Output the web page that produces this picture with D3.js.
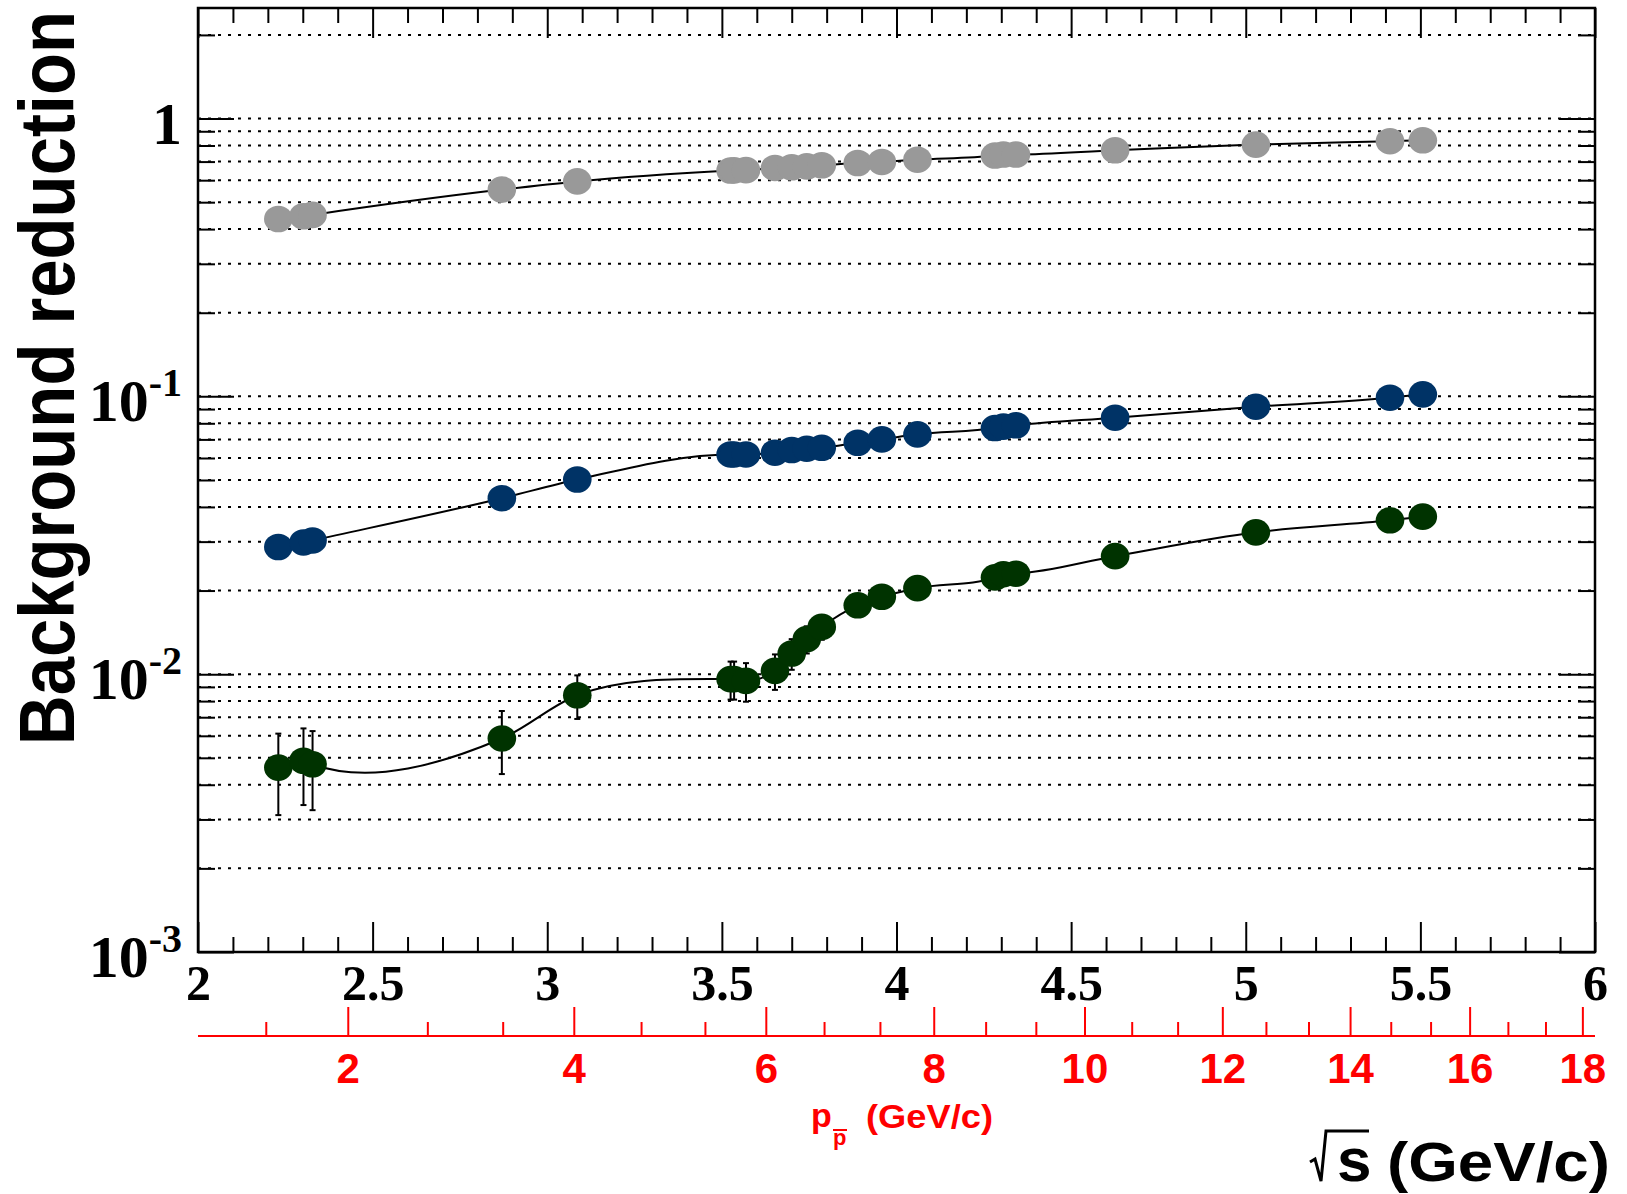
<!DOCTYPE html>
<html>
<head>
<meta charset="utf-8">
<script src="https://cdn.jsdelivr.net/npm/d3@7"></script>
<style>
  body { margin: 0; background: #fff; }
  svg { display: block; }
</style>
</head>
<body>
<div id="chart"></div>
<script>
// centre-of-mass energy of each point (GeV)
const sqrtS = [2.230, 2.302, 2.328, 2.870, 3.086, 3.525, 3.535, 3.569, 3.652, 3.700, 3.743,
  3.786, 3.889, 3.958, 4.060, 4.282, 4.306, 4.342, 4.626, 5.029, 5.413, 5.507];

const gray = [0.435, 0.445, 0.450, 0.555, 0.594, 0.650, 0.651, 0.652, 0.664, 0.668, 0.673,
  0.679, 0.692, 0.698, 0.711, 0.736, 0.742, 0.742, 0.769, 0.806, 0.829, 0.835];

const blue = [0.0287, 0.0298, 0.0303, 0.0430, 0.0502, 0.0618, 0.0618, 0.0618, 0.0627, 0.0641, 0.0648,
  0.0653, 0.0681, 0.0700, 0.0730, 0.0769, 0.0778, 0.0787, 0.0838, 0.0918, 0.0989, 0.1017];

const green = [0.00461, 0.00488, 0.00474, 0.00587, 0.0084, 0.0096, 0.0096, 0.00946, 0.01028, 0.01187, 0.01337,
  0.0148, 0.0177, 0.0190, 0.0204, 0.0223, 0.0229, 0.0230, 0.0266, 0.0324, 0.0358, 0.0369];

const greenErr = [0.0015, 0.0015, 0.0015, 0.0015, 0.0015, 0.0015, 0.0015, 0.0015, 0.0015, 0.0015, 0.0015,
  0.0015, 0.0015, 0.0015, 0.0015, 0.0015, 0.0015, 0.0015, 0.0015, 0.0015, 0.0015, 0.0015];

const xTicks = [2, 2.5, 3, 3.5, 4, 4.5, 5, 5.5, 6];
const yTicks = [0.001, 0.01, 0.1, 1];
const yExp = ["-3", "-2", "-1", ""];
const pbarTicks = [2, 4, 6, 8, 10, 12, 14, 16, 18];

const W = 1627, H = 1194;
const frame = { left: 198, right: 1595, top: 8, bottom: 952 };
const serif = "'Liberation Serif', 'Times New Roman', serif";
const sans = "'Liberation Sans', Arial, Helvetica, sans-serif";

const svg = d3.select("#chart").append("svg")
  .attr("width", W)
  .attr("height", H);

svg.append("rect").attr("width", W).attr("height", H).attr("fill", "#fff");

const x = d3.scaleLinear().domain([2, 6]).range([frame.left, frame.right]);
const y = d3.scaleLog().domain([0.001, 2.5]).range([frame.bottom, frame.top]);

// antiproton beam momentum -> sqrt(s) on a fixed proton target
const mp = 0.938272;
const sqrtSfromP = p => Math.sqrt(2 * mp * mp + 2 * mp * Math.sqrt(p * p + mp * mp));

const xMinor = d3.range(20, 61).map(d => d / 10).filter(d => Math.abs(d * 2 - Math.round(d * 2)) > 1e-6);
const yMinor = [];
[-3, -2, -1, 0].forEach(e => {
  d3.range(2, 10).forEach(k => {
    const v = k * Math.pow(10, e);
    if (v <= 2.5) yMinor.push(v);
  });
});

// grid lines (dotted)
svg.append("g")
  .selectAll("line")
  .data(yTicks.concat(yMinor).filter(d => d > 0.001))
  .join("line")
  .attr("x1", frame.left)
  .attr("x2", frame.right)
  .attr("y1", d => y(d))
  .attr("y2", d => y(d))
  .attr("stroke", "#000")
  .attr("stroke-width", 2)
  .attr("stroke-dasharray", "3,7");

// axes
function styleAxis(g) {
  g.select(".domain").remove();
  g.selectAll(".tick line").attr("stroke", "#000").attr("stroke-width", 2);
}

svg.append("g")
  .attr("transform", `translate(0,${frame.bottom})`)
  .call(d3.axisBottom(x).tickValues(xTicks).tickSize(-30).tickPadding(12).tickFormat(d3.format("")))
  .call(styleAxis)
  .call(g => g.selectAll("text")
    .attr("fill", "#000")
    .attr("font-family", serif)
    .attr("font-weight", "bold")
    .attr("font-size", 50));

svg.append("g")
  .attr("transform", `translate(0,${frame.bottom})`)
  .call(d3.axisBottom(x).tickValues(xMinor).tickSize(-15).tickFormat(""))
  .call(styleAxis);

svg.append("g")
  .attr("transform", `translate(0,${frame.top})`)
  .call(d3.axisTop(x).tickValues(xTicks).tickSize(-30).tickFormat(""))
  .call(styleAxis);

svg.append("g")
  .attr("transform", `translate(0,${frame.top})`)
  .call(d3.axisTop(x).tickValues(xMinor).tickSize(-15).tickFormat(""))
  .call(styleAxis);

svg.append("g")
  .attr("transform", `translate(${frame.left},0)`)
  .call(d3.axisLeft(y).tickValues(yTicks).tickSize(-36).tickFormat(""))
  .call(styleAxis);

svg.append("g")
  .attr("transform", `translate(${frame.left},0)`)
  .call(d3.axisLeft(y).tickValues(yMinor).tickSize(-17).tickFormat(""))
  .call(styleAxis);

svg.append("g")
  .attr("transform", `translate(${frame.right},0)`)
  .call(d3.axisRight(y).tickValues(yTicks).tickSize(-36).tickFormat(""))
  .call(styleAxis);

svg.append("g")
  .attr("transform", `translate(${frame.right},0)`)
  .call(d3.axisRight(y).tickValues(yMinor).tickSize(-17).tickFormat(""))
  .call(styleAxis);

// y tick labels with superscript exponents
const yLab = svg.append("g")
  .selectAll("text")
  .data(yTicks)
  .join("text")
  .attr("x", 182)
  .attr("y", d => y(d) + 25)
  .attr("text-anchor", "end")
  .attr("font-family", serif)
  .attr("font-weight", "bold")
  .attr("font-size", 60);

yLab.each(function (d, i) {
  const t = d3.select(this);
  if (yExp[i] === "") {
    t.text("1");
  } else {
    t.append("tspan").text("10");
    t.append("tspan").attr("font-size", 40).attr("dy", -25).text(yExp[i]);
  }
});

// frame
svg.append("rect")
  .attr("x", frame.left)
  .attr("y", frame.top)
  .attr("width", frame.right - frame.left)
  .attr("height", frame.bottom - frame.top)
  .attr("fill", "none")
  .attr("stroke", "#000")
  .attr("stroke-width", 2.5);

// secondary (red) antiproton momentum axis
const redY = 1036;
const red = "#ff0000";
const pMinor = d3.range(1, 27).map(k => k * 2 / 3).filter(p => Math.abs(p / 2 - Math.round(p / 2)) > 1e-6 && p < 18 && sqrtSfromP(p) >= 2);

const redAxis = svg.append("g");
redAxis.append("line")
  .attr("x1", x(2))
  .attr("x2", x(6))
  .attr("y1", redY)
  .attr("y2", redY)
  .attr("stroke", red)
  .attr("stroke-width", 2);

redAxis.selectAll("line.major")
  .data(pbarTicks)
  .join("line")
  .attr("class", "major")
  .attr("x1", d => x(sqrtSfromP(d)))
  .attr("x2", d => x(sqrtSfromP(d)))
  .attr("y1", redY)
  .attr("y2", redY - 29)
  .attr("stroke", red)
  .attr("stroke-width", 2);

redAxis.selectAll("line.minor")
  .data(pMinor)
  .join("line")
  .attr("class", "minor")
  .attr("x1", d => x(sqrtSfromP(d)))
  .attr("x2", d => x(sqrtSfromP(d)))
  .attr("y1", redY)
  .attr("y2", redY - 14)
  .attr("stroke", red)
  .attr("stroke-width", 2);

redAxis.selectAll("text")
  .data(pbarTicks)
  .join("text")
  .attr("x", d => x(sqrtSfromP(d)))
  .attr("y", 1083)
  .attr("text-anchor", "middle")
  .attr("fill", red)
  .attr("font-family", sans)
  .attr("font-weight", "bold")
  .attr("font-size", 42)
  .text(d => d);

// red axis title: p_{pbar} (GeV/c)
const redTitle = svg.append("g").attr("fill", red).attr("font-family", sans).attr("font-weight", "bold");
redTitle.append("text").attr("x", 811).attr("y", 1127).attr("font-size", 34).text("p");
redTitle.append("text").attr("x", 833).attr("y", 1145).attr("font-size", 22).text("p");
redTitle.append("line")
  .attr("x1", 833).attr("x2", 847)
  .attr("y1", 1130).attr("y2", 1130)
  .attr("stroke", red).attr("stroke-width", 2);
redTitle.append("text")
  .attr("x", 866).attr("y", 1128)
  .attr("font-size", 33)
  .attr("textLength", 127)
  .attr("lengthAdjust", "spacingAndGlyphs")
  .text("(GeV/c)");

// x axis title: sqrt(s) (GeV/c)
const xTitle = svg.append("g").attr("fill", "#000").attr("font-family", sans).attr("font-weight", "bold");
xTitle.append("path")
  .attr("d", "M1310,1162 L1315,1159 L1321,1181 L1326,1131 L1369,1131")
  .attr("fill", "none")
  .attr("stroke", "#000")
  .attr("stroke-width", 3);
xTitle.append("text")
  .attr("x", 1337).attr("y", 1181)
  .attr("font-size", 62)
  .text("s");
xTitle.append("text")
  .attr("x", 1387).attr("y", 1181)
  .attr("font-size", 56)
  .attr("textLength", 223)
  .attr("lengthAdjust", "spacingAndGlyphs")
  .text("(GeV/c)");

// y axis title
svg.append("text")
  .attr("transform", "translate(74,745) rotate(-90)")
  .attr("font-family", sans)
  .attr("font-weight", "bold")
  .attr("font-size", 77)
  .attr("textLength", 734)
  .attr("lengthAdjust", "spacingAndGlyphs")
  .text("Background reduction");

// smooth curves through each series
const line = d3.line()
  .x((d, i) => x(sqrtS[i]))
  .y(d => y(d))
  .curve(d3.curveCatmullRom.alpha(1));

const series = [
  { values: gray, color: "#999999" },
  { values: blue, color: "#003366" },
  { values: green, color: "#003300" }
];

series.forEach(s => {
  svg.append("path")
    .attr("d", line(s.values))
    .attr("fill", "none")
    .attr("stroke", "#000")
    .attr("stroke-width", 2);
});

// error bars on the green series
const err = svg.append("g").attr("stroke", "#000").attr("stroke-width", 2);
green.forEach((v, i) => {
  const cx = x(sqrtS[i]);
  const y1 = y(v + greenErr[i]);
  const y2 = y(v - greenErr[i]);
  err.append("line").attr("x1", cx).attr("x2", cx).attr("y1", y1).attr("y2", y2);
  err.append("line").attr("x1", cx - 3).attr("x2", cx + 3).attr("y1", y1).attr("y2", y1);
  err.append("line").attr("x1", cx - 3).attr("x2", cx + 3).attr("y1", y2).attr("y2", y2);
});

// markers
series.forEach(s => {
  svg.append("g")
    .selectAll("ellipse")
    .data(s.values)
    .join("ellipse")
    .attr("cx", (d, i) => x(sqrtS[i]))
    .attr("cy", d => y(d))
    .attr("rx", 14.3)
    .attr("ry", 13.3)
    .attr("fill", s.color);
});
</script>
</body>
</html>
